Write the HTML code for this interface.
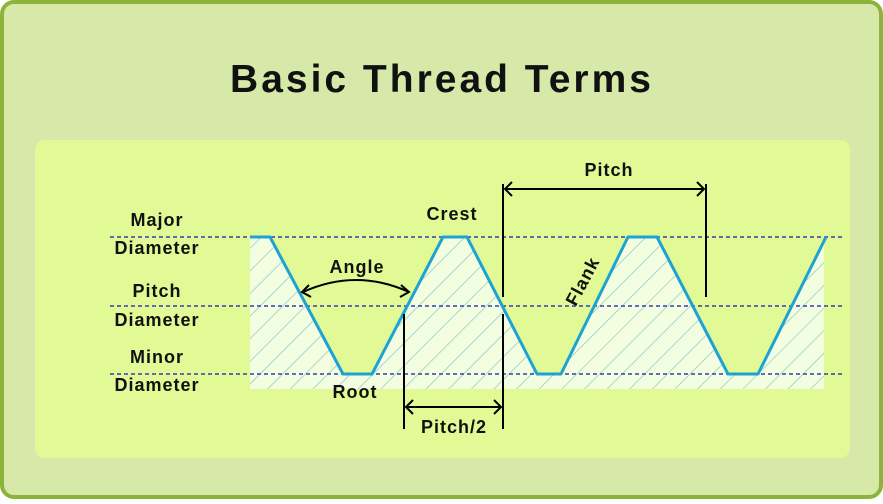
<!DOCTYPE html>
<html><head><style>
body{margin:0;width:883px;height:499px;overflow:hidden;background:#fff;}
</style></head><body>
<svg width="883" height="499" xmlns="http://www.w3.org/2000/svg" font-family="Liberation Sans, sans-serif" font-weight="bold">
<defs>
<pattern id="h" width="16" height="16" patternUnits="userSpaceOnUse" patternTransform="rotate(-45)">
<rect width="16" height="16" fill="#f3fde0"/>
<line x1="0" y1="0" x2="16" y2="0" stroke="#7fc7c4" stroke-width="1.3"/>
</pattern>
</defs>
<rect x="2" y="2" width="879" height="495" rx="12" fill="#d6e9a8" stroke="#8cb43c" stroke-width="4"/>
<text x="442" y="92" font-size="39" letter-spacing="3" text-anchor="middle" fill="#111">Basic Thread Terms</text>
<rect x="35" y="140" width="815" height="318" rx="10" fill="#e1fa95"/>
<path d="M250,237 L270,237 L343,374 L372,374 L443,237 L467,237 L537,374 L561,374 L628,237 L657,237 L728,374 L758,374 L824,245 L824,389 L250,389 Z" fill="url(#h)"/>
<g stroke="#3b3bb0" stroke-width="1.5" stroke-dasharray="4,3">
<line x1="110" y1="237" x2="843" y2="237"/>
<line x1="110" y1="306" x2="843" y2="306"/>
<line x1="110" y1="374" x2="843" y2="374"/>
</g>
<path d="M250,237 L270,237 L343,374 L372,374 L443,237 L467,237 L537,374 L561,374 L628,237 L657,237 L728,374 L758,374 L826,237" fill="none" stroke="#1ea2d4" stroke-width="3" stroke-linejoin="round"/>
<g stroke="#000" stroke-width="2" fill="none">
<line x1="503" y1="184" x2="503" y2="297"/>
<line x1="503" y1="314" x2="503" y2="429"/>
<line x1="706" y1="184" x2="706" y2="297"/>
<line x1="404" y1="314" x2="404" y2="429"/>
<line x1="505" y1="189" x2="704" y2="189"/>
<path d="M512,182 L505,189 L512,196 M697,182 L704,189 L697,196"/>
<line x1="406" y1="407" x2="501" y2="407"/>
<path d="M413,400 L406,407 L413,414 M494,400 L501,407 L494,414"/>
<path d="M303,292 Q356,268 409,292"/>
<path d="M309,285 L302,292 L311,297 M401,285 L409,292 L400,297"/>
</g>
<g font-size="18" letter-spacing="1" fill="#111" text-anchor="middle">
<text x="157" y="226">Major</text>
<text x="157" y="254">Diameter</text>
<text x="157" y="297">Pitch</text>
<text x="157" y="326">Diameter</text>
<text x="157" y="363">Minor</text>
<text x="157" y="391">Diameter</text>
<text x="357" y="273">Angle</text>
<text x="452" y="220">Crest</text>
<text x="355" y="398">Root</text>
<text x="609" y="176">Pitch</text>
<text x="454" y="433">Pitch/2</text>
<text x="0" y="0" transform="translate(588,284) rotate(-62)">Flank</text>
</g>
</svg>
</body></html>
